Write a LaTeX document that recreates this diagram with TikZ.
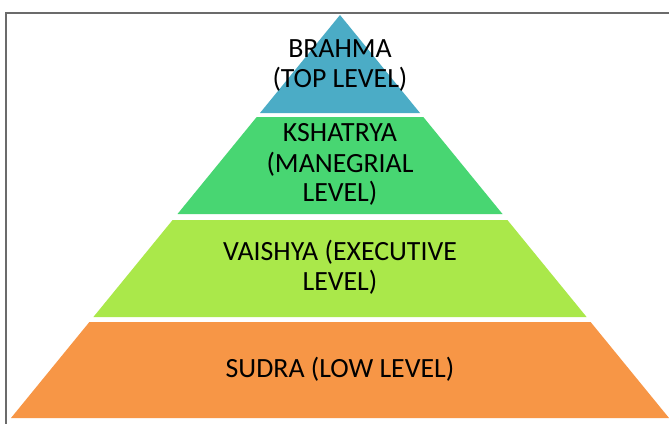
\documentclass[tikz,border=0pt]{standalone}
\usepackage{fontspec}
\setmainfont{Carlito}
\definecolor{topblue}{HTML}{4BACC6}
\definecolor{midgreen}{HTML}{48D672}
\definecolor{limegreen}{HTML}{AAE84A}
\definecolor{baseorange}{HTML}{F79646}
\definecolor{framegray}{HTML}{6B6B6B}
\tikzset{
  lbl/.style={anchor=base, inner sep=0pt, font=\fontsize{27.8}{30.5}\selectfont, text=black},
  layer/.style={draw=none}
}
\begin{document}
\begin{tikzpicture}[x=1pt,y=-1pt]
\useasboundingbox (0,0) rectangle (669,424);
\fill[white] (0,0) rectangle (669,424);
% frame
\draw[framegray, line width=1.4pt] (669,13) -- (6,13) -- (6,424);
% layers
\fill[layer, topblue] (340,15) -- (420,113) -- (260,113) -- cycle;
\fill[layer, midgreen] (256.7,117) -- (423.3,117) -- (502.5,214) -- (177.5,214) -- cycle;
\fill[layer, limegreen] (172.6,220) -- (507.4,220) -- (586.6,317) -- (93.4,317) -- cycle;
\fill[layer, baseorange] (89.4,322) -- (590.6,322) -- (669,418) -- (11,418) -- cycle;
% labels
\node[lbl] (brahmaA) at (340,57) {BRAHMA};
\node[lbl] (brahmaB) at (340,87) {(TOP LEVEL)};
\node[lbl] (kshA) at (340,141) {KSHATRYA};
\node[lbl] (kshB) at (340,172) {(MANEGRIAL};
\node[lbl] (kshC) at (340,201) {LEVEL)};
\node[lbl] (vaiA) at (340,260) {VAISHYA (EXECUTIVE};
\node[lbl] (vaiB) at (340,290) {LEVEL)};
\node[lbl] (sudra) at (340,377) {SUDRA (LOW LEVEL)};
\end{tikzpicture}
\end{document}
